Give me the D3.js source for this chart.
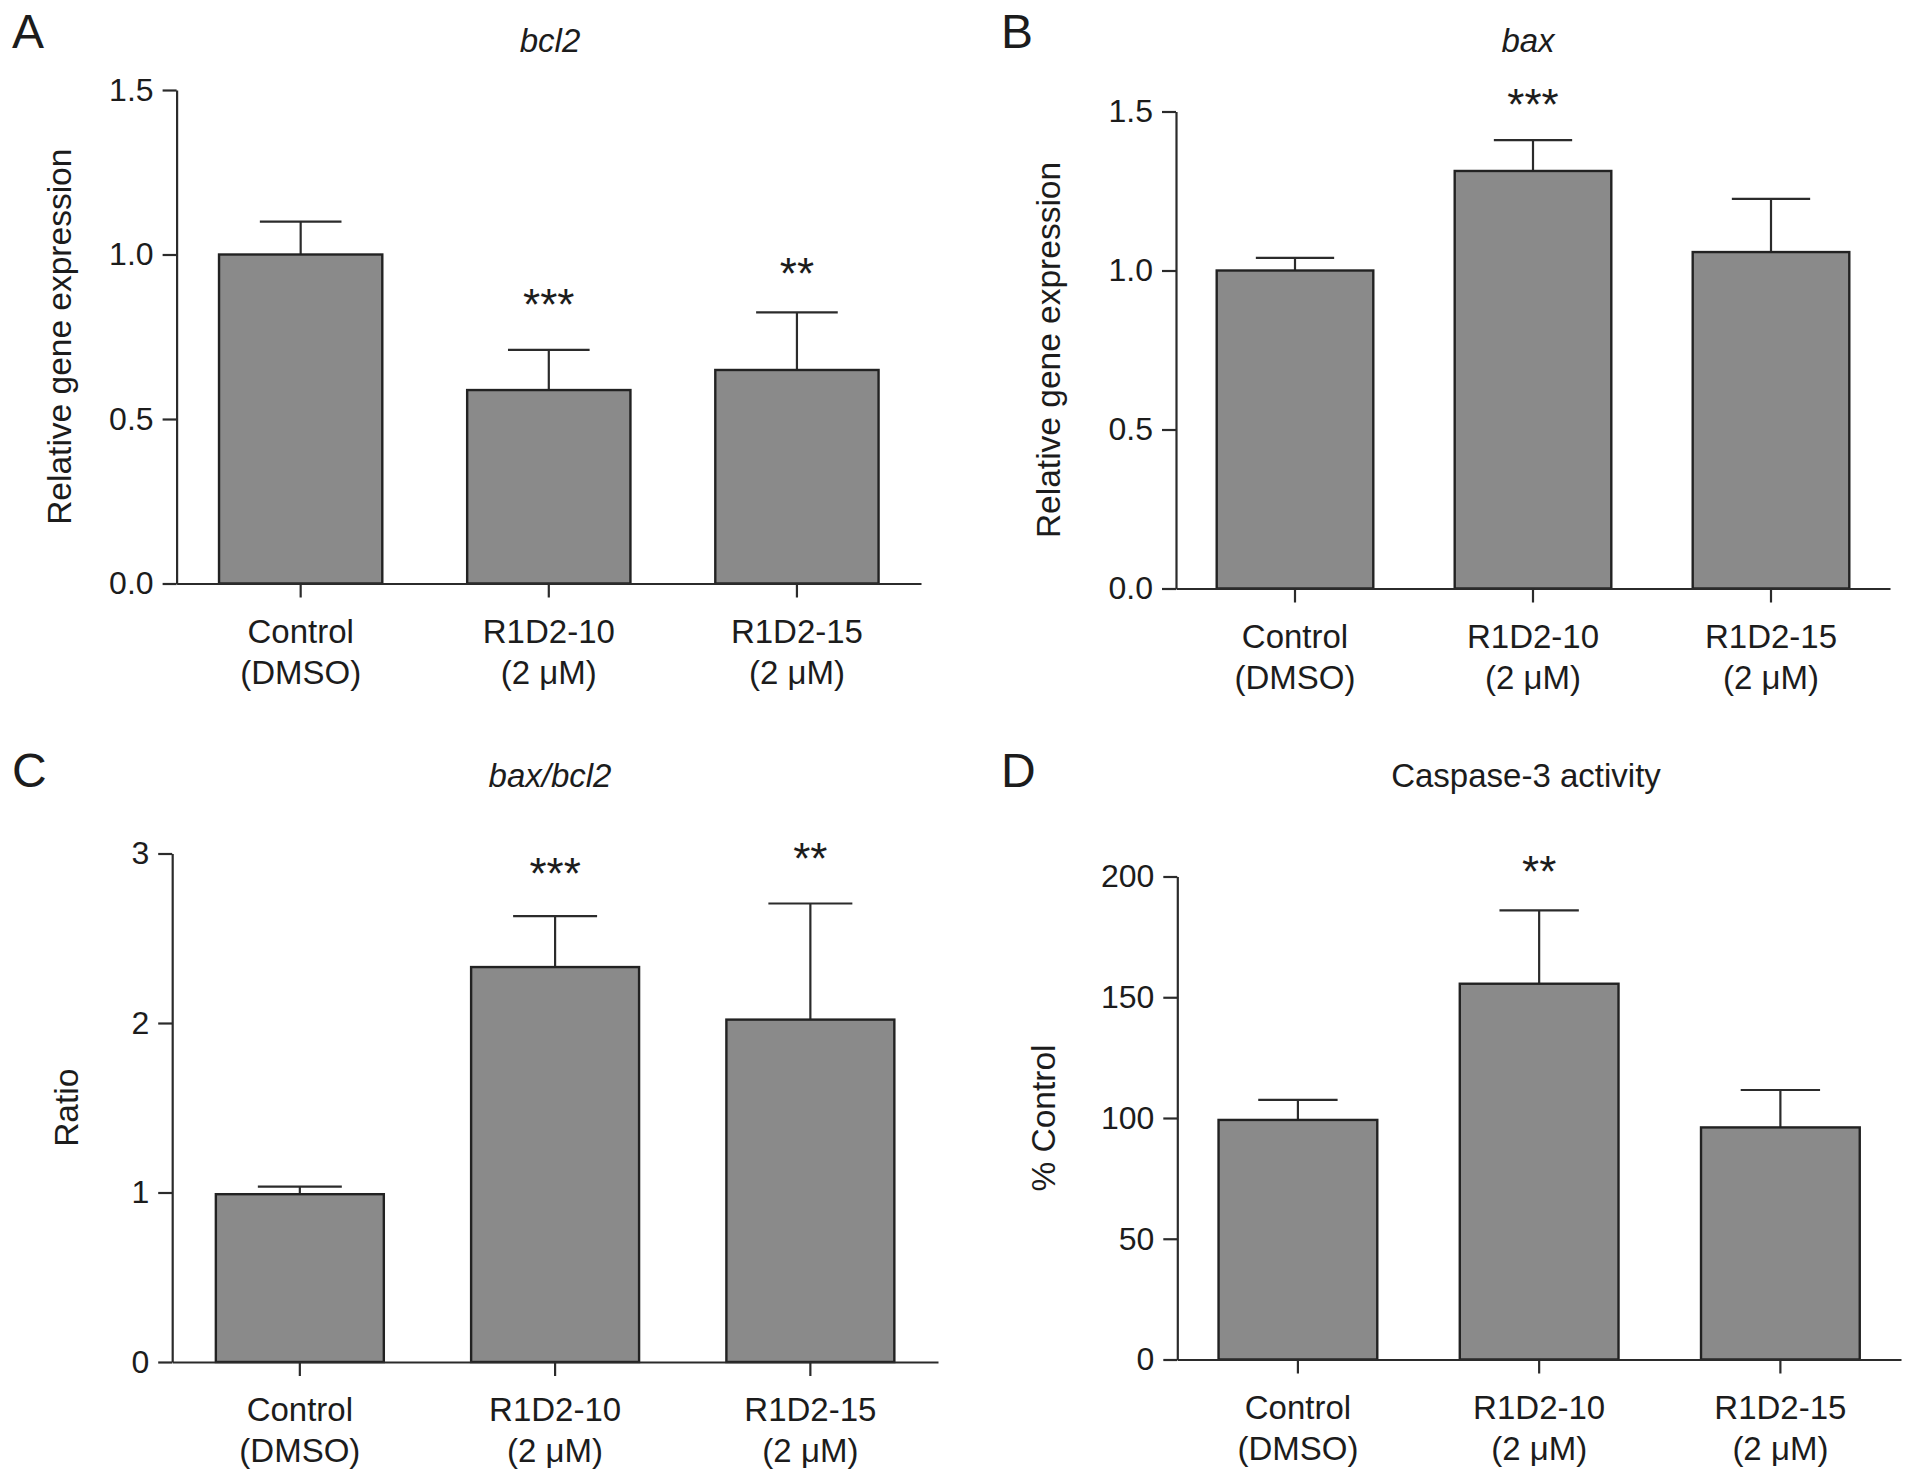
<!DOCTYPE html>
<html>
<head>
<meta charset="utf-8">
<script src="https://cdn.jsdelivr.net/npm/d3@7"></script>
<style>
  body { margin: 0; background: #fff; }
  svg { display: block; }
  text { font-family: "Liberation Sans", Arial, Helvetica, sans-serif; fill: #1c1c1c; }
</style>
</head>
<body>
<svg id="chart" width="1913" height="1477"></svg>
<script>
// ---- data ----
var categories = [["Control", "(DMSO)"], ["R1D2-10", "(2 \u03bcM)"], ["R1D2-15", "(2 \u03bcM)"]];

var panelLetters = ["A", "B", "C", "D"];
var panelTitles = ["bcl2", "bax", "bax/bcl2", "Caspase-3 activity"];
var titleItalic = [true, true, true, false];
var yLabels = ["Relative gene expression", "Relative gene expression", "Ratio", "% Control"];

var bcl2Mean = [1.00, 0.588, 0.649];
var bcl2Err  = [0.100, 0.122, 0.175];
var baxMean  = [1.00, 1.313, 1.058];
var baxErr   = [0.040, 0.097, 0.167];
var ratioMean = [0.99, 2.33, 2.02];
var ratioErr  = [0.045, 0.30, 0.685];
var caspMean = [99.2, 155.6, 96.1];
var caspErr  = [8.3, 30.4, 15.5];

var bcl2Stars  = ["", "***", "**"];
var baxStars   = ["", "***", ""];
var ratioStars = ["", "***", "**"];
var caspStars  = ["", "**", ""];
// height (data units) where each star label sits
var bcl2StarLevel  = [null, 0.868, 0.961];
var baxStarLevel   = [null, 1.543, null];
var ratioStarLevel = [null, 2.92, 3.01];
var caspStarLevel  = [null, 204.9, null];

var bcl2Ticks  = [0, 0.5, 1.0, 1.5];
var baxTicks   = [0, 0.5, 1.0, 1.5];
var ratioTicks = [0, 1, 2, 3];
var caspTicks  = [0, 50, 100, 150, 200];

var yDomains = [[0, 1.5], [0, 1.5], [0, 3], [0, 200]];
var tickFormats = [".1f", ".1f", "d", "d"];

// ---- layout (pixel positions of each panel's axes) ----
var layout = [
  {left: 176.6, right: 921,  top: 90,    bottom: 583.5,  titleX: 550, titleY: 52,  letterX: 12,   letterY: 48,  ylabX: 61},
  {left: 1176,  right: 1890, top: 111.5, bottom: 588.5,  titleX: 1528, titleY: 52, letterX: 1001, letterY: 48,  ylabX: 1050},
  {left: 172.2, right: 938,  top: 853.5, bottom: 1362,   titleX: 550, titleY: 787, letterX: 12,   letterY: 787, ylabX: 68},
  {left: 1177.3, right: 1901, top: 876.5, bottom: 1359.5, titleX: 1526, titleY: 787, letterX: 1001, letterY: 787, ylabX: 1045}
];

var means = [bcl2Mean, baxMean, ratioMean, caspMean];
var errs = [bcl2Err, baxErr, ratioErr, caspErr];
var stars = [bcl2Stars, baxStars, ratioStars, caspStars];
var starLevels = [bcl2StarLevel, baxStarLevel, ratioStarLevel, caspStarLevel];
var ticks = [bcl2Ticks, baxTicks, ratioTicks, caspTicks];

var svg = d3.select("#chart");
var axisColor = "#2b2b2b";
var starSize = 44;

for (var p = 0; p < 4; p++) {
  var L = layout[p];
  var g = svg.append("g");

  var x = d3.scaleBand()
      .domain(d3.range(categories.length))
      .range([L.left, L.right])
      .paddingInner(0.342)
      .paddingOuter(0.171);
  var y = d3.scaleLinear().domain(yDomains[p]).range([L.bottom, L.top]);

  var rows = means[p].map(function(m, i) {
    return {i: i, mean: m, err: errs[p][i], star: stars[p][i], level: starLevels[p][i]};
  });

  // error bars (upper only), drawn under the bars
  var eb = g.selectAll(".err").data(rows).enter().append("g");
  eb.append("line")
      .attr("x1", function(d) { return x(d.i) + x.bandwidth() / 2; })
      .attr("x2", function(d) { return x(d.i) + x.bandwidth() / 2; })
      .attr("y1", function(d) { return y(d.mean); })
      .attr("y2", function(d) { return y(d.mean + d.err); })
      .attr("stroke", axisColor).attr("stroke-width", 2.2);
  eb.append("line")
      .attr("x1", function(d) { return x(d.i) + x.bandwidth() / 4; })
      .attr("x2", function(d) { return x(d.i) + x.bandwidth() * 3 / 4; })
      .attr("y1", function(d) { return y(d.mean + d.err); })
      .attr("y2", function(d) { return y(d.mean + d.err); })
      .attr("stroke", axisColor).attr("stroke-width", 2.2);

  g.selectAll(".bar").data(rows).enter().append("rect")
      .attr("x", function(d) { return x(d.i); })
      .attr("width", x.bandwidth())
      .attr("y", function(d) { return y(d.mean); })
      .attr("height", function(d) { return y(0) - y(d.mean); })
      .attr("fill", "#8a8a8a")
      .attr("stroke", "#222")
      .attr("stroke-width", 2.4);

  g.selectAll(".star").data(rows.filter(function(d) { return d.star; })).enter().append("text")
      .attr("x", function(d) { return x(d.i) + x.bandwidth() / 2; })
      .attr("y", function(d) { return y(d.level) + starSize * 0.5; })
      .attr("text-anchor", "middle")
      .attr("font-size", starSize)
      .text(function(d) { return d.star; });

  // y axis
  var ya = g.append("g")
      .attr("transform", "translate(" + L.left + ",0)")
      .call(d3.axisLeft(y).tickValues(ticks[p]).tickFormat(d3.format(tickFormats[p]))
        .tickSize(14).tickSizeOuter(0).tickPadding(9));
  ya.selectAll("text").attr("font-size", 32).attr("fill", "#1c1c1c");

  // x axis
  var xa = g.append("g")
      .attr("transform", "translate(0," + L.bottom + ")")
      .call(d3.axisBottom(x).tickSize(14).tickSizeOuter(0).tickFormat(""));
  xa.selectAll(".tick text").remove();
  xa.selectAll(".tick").append("text")
      .attr("text-anchor", "middle")
      .attr("font-size", 33)
      .attr("fill", "#1c1c1c")
      .selectAll("tspan")
      .data(function(d) { return categories[d]; })
      .enter().append("tspan")
      .attr("x", 0)
      .attr("y", function(d, k) { return 59 + k * 41; })
      .text(function(d) { return d; });

  [ya, xa].forEach(function(a) {
    a.select(".domain").attr("stroke", axisColor).attr("stroke-width", 2.2);
    a.selectAll(".tick line").attr("stroke", axisColor).attr("stroke-width", 2.2);
  });

  // y label
  g.append("text")
      .attr("transform", "translate(" + L.ylabX + "," + (L.top + L.bottom) / 2 + ") rotate(-90)")
      .attr("text-anchor", "middle")
      .attr("dy", "0.3em")
      .attr("font-size", 33.5)
      .text(yLabels[p]);

  // title
  g.append("text")
      .attr("x", L.titleX)
      .attr("y", L.titleY)
      .attr("text-anchor", "middle")
      .attr("font-size", 33)
      .attr("font-style", titleItalic[p] ? "italic" : "normal")
      .text(panelTitles[p]);

  // panel letter
  g.append("text")
      .attr("x", L.letterX)
      .attr("y", L.letterY)
      .attr("font-size", 48)
      .text(panelLetters[p]);
}
</script>
</body>
</html>
